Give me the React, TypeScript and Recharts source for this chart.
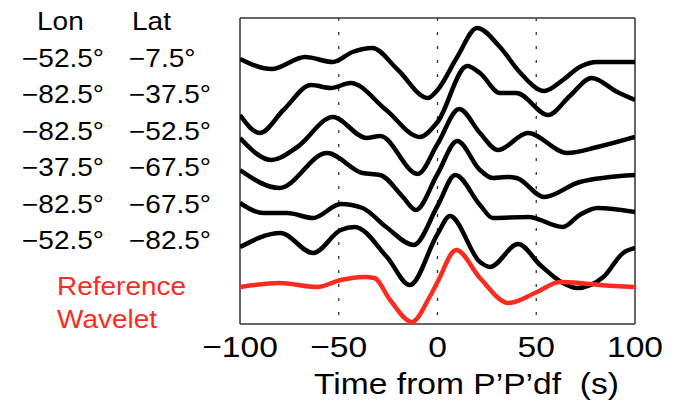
import { LineChart, Line, XAxis, YAxis, CartesianGrid, ReferenceLine } from "recharts";

// station list shown left of the traces
const lonLabels = ["−52.5°", "−82.5°", "−82.5°", "−37.5°", "−82.5°", "−52.5°"];
const latLabels = ["−7.5°", "−37.5°", "−52.5°", "−67.5°", "−67.5°", "−82.5°"];
const timeTicks = [-100, -50, 0, 50, 100];
const markerTimes = [-50, 0, 50];

// picked times (s) and trace amplitude (plot units, 0 = frame bottom, 306 = frame top)
const t1 = [-100, -84, -67, -53, -43, -33, -20, -5, 0, 10, 20, 31.6, 42, 54, 63.5, 72, 81, 100];
const a1 = [265, 255, 267, 262, 272, 276, 254, 226, 234, 267, 296, 277, 251, 233, 244, 257, 262, 262];

const t2 = [-100, -90, -78, -64, -54, -44, -26, -9, 0, 15, 21.5, 31.6, 40, 56, 67, 78, 91, 100];
const a2 = [209, 191, 214, 239, 236, 241, 214, 187, 202, 258, 251, 231, 231, 209, 228, 246, 232, 224];

const t3 = [-100, -84, -71, -53, -36, -29, -10, 0, 11, 21.5, 30.6, 45.8, 65.6, 81, 100];
const a3 = [186, 164, 177, 207, 186, 188, 150, 180, 215, 191, 174, 191, 171, 177, 187];

const t4 = [-100, -80, -56, -38, -29, -17.5, -11, 0, 10, 21.5, 28, 35, 40, 54, 72, 100];
const a4 = [154, 136, 171, 151, 149, 127, 114, 150, 183, 154, 146, 147, 146, 127, 142, 149];

const t5 = [-100, -88, -76, -63, -49, -38, -26, -12, 0, 9, 21.5, 28, 46, 63.5, 72, 81, 100];
const a5 = [121, 111, 111, 106, 120, 116, 97, 79, 118, 149, 119, 106, 107, 97, 109, 116, 112];

const t6 = [-100, -79.5, -63, -49, -42, -25.6, -14, 0, 6.3, 21.5, 26.6, 40.8, 52, 63.5, 70.6, 84, 94, 100];
const a6 = [77, 91, 71, 94, 97, 67, 39, 90, 108, 62, 57, 80, 59, 41, 36, 47, 71, 76];

const tRef = [-100, -80, -61, -49, -37, -32, -24, -13, -4, 0, 9.5, 21.5, 36, 50.4, 62, 72, 82, 100];
const aRef = [37, 41, 37, 44, 47, 46, 24, 2, 27, 42, 74, 46, 21, 32, 42, 41, 39, 37];

const RED = "#fb2c1f";
const SX = 1.12; // the source figure is stretched a little horizontally

const toPoints = (t: number[], a: number[]) => t.map((time, i) => ({ t: time, v: a[i] }));

const traces = [
  { key: "s1", data: toPoints(t1, a1), color: "#000" },
  { key: "s2", data: toPoints(t2, a2), color: "#000" },
  { key: "s3", data: toPoints(t3, a3), color: "#000" },
  { key: "s4", data: toPoints(t4, a4), color: "#000" },
  { key: "s5", data: toPoints(t5, a5), color: "#000" },
  { key: "s6", data: toPoints(t6, a6), color: "#000" },
  { key: "ref", data: toPoints(tRef, aRef), color: RED },
];

const W = 680;
const H = 401;
const AXIS_H = 77;
const FRAME = "#333";

function TimeTick({ x, y, payload }: any) {
  const v = payload.value;
  const s = v < 0 ? "\u2212" + Math.abs(v) : String(v);
  return (
    <text transform={`translate(${x},${y + 33}) scale(${SX},1)`} textAnchor="middle" fontSize={30} fill="#000">
      {s}
    </text>
  );
}

function AxisTitle({ viewBox }: any) {
  if (!viewBox) return null;
  const cx = viewBox.x + viewBox.width / 2 + 29;
  return (
    <text
      transform={`translate(${cx},${viewBox.y + 70}) scale(${SX},1)`}
      textAnchor="middle"
      fontSize={30}
      fill="#000"
      style={{ whiteSpace: "pre" }}
    >
      {"Time from P’P’df  (s)"}
    </text>
  );
}

function Txt({ x, y, children, fill = "#000" }: any) {
  return (
    <text transform={`translate(${x},${y}) scale(${SX},1)`} fontSize={25} fill={fill}>
      {children}
    </text>
  );
}

export default function App() {
  return (
    <div
      style={{
        position: "fixed",
        left: 0,
        top: 0,
        width: W,
        height: H,
        background: "#fff",
        fontFamily: "'Liberation Sans', Arial, sans-serif",
      }}
    >
      <LineChart width={W} height={H} margin={{ top: 18, right: 45, left: 240, bottom: 0 }}>
        <CartesianGrid horizontal={false} verticalValues={markerTimes} stroke="#333" strokeWidth={1.3} strokeDasharray="3 11" />
        <XAxis
          type="number"
          dataKey="t"
          domain={[-100, 100]}
          ticks={timeTicks}
          allowDataOverflow
          axisLine={false}
          tickLine={false}
          tickSize={0}
          tickMargin={0}
          height={AXIS_H}
          tick={<TimeTick />}
          label={{ content: <AxisTitle /> }}
        />
        <YAxis type="number" domain={[0, 306]} allowDataOverflow hide />
        {/* plot box */}
        <ReferenceLine x={-100} stroke={FRAME} strokeWidth={1.5} ifOverflow="visible" />
        <ReferenceLine x={100} stroke={FRAME} strokeWidth={1.5} ifOverflow="visible" />
        <ReferenceLine y={0} stroke={FRAME} strokeWidth={1.5} ifOverflow="visible" />
        <ReferenceLine y={306} stroke={FRAME} strokeWidth={1.5} ifOverflow="visible" />
        {traces.map((s) => (
          <Line
            key={s.key}
            data={s.data}
            dataKey="v"
            type="monotone"
            stroke={s.color}
            strokeWidth={4.5}
            dot={false}
            activeDot={false}
            isAnimationActive={false}
          />
        ))}
      </LineChart>
      <svg width={W} height={H} style={{ position: "absolute", left: 0, top: 0, pointerEvents: "none" }}>
        <Txt x={37} y={30}>Lon</Txt>
        <Txt x={132} y={30}>Lat</Txt>
        {lonLabels.map((lon, i) => (
          <Txt key={"lon" + i} x={22} y={67 + i * 36.4}>
            {lon}
          </Txt>
        ))}
        {latLabels.map((lat, i) => (
          <Txt key={"lat" + i} x={129} y={67 + i * 36.4}>
            {lat}
          </Txt>
        ))}
        <Txt x={57} y={295} fill={RED}>
          Reference
        </Txt>
        <Txt x={57} y={328} fill={RED}>
          Wavelet
        </Txt>
      </svg>
    </div>
  );
}
